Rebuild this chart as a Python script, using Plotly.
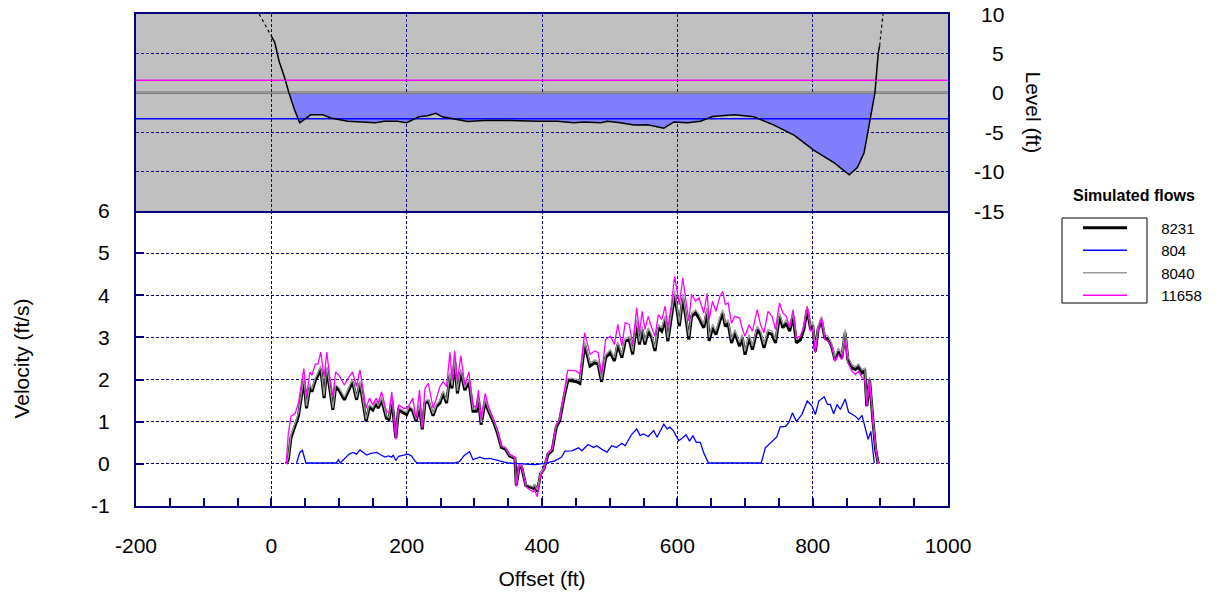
import plotly.graph_objects as go

# ---------------- data ----------------
OFFSET = [22, 25, 29, 35, 40, 44, 48, 52, 57, 60, 65, 69, 73, 78, 82, 86, 91, 95, 100, 108,
          113, 120, 126, 131, 140, 145, 150, 155, 158, 163, 170, 174, 178, 184, 188, 195, 200, 204, 209, 214,
          219, 223, 227, 232, 239, 244, 249, 254, 259, 264, 267, 271, 275, 280, 286, 292, 298, 303, 306, 310,
          316, 321, 328, 334, 340, 346, 352, 360, 362, 366, 370, 376, 382, 387, 389, 393, 398, 403, 409, 415,
          421, 426, 433, 438, 444, 451, 456, 463, 471, 478, 483, 488, 494, 501, 507, 512, 518, 523, 529, 534,
          540, 544, 548, 552, 557, 562, 567, 572, 577, 582, 586, 591, 596, 603, 608, 612, 617, 621, 627, 632,
          639, 644, 647, 652, 657, 663, 667, 671, 675, 680, 685, 692, 696, 700, 706, 711, 718, 723, 728, 734,
          740, 745, 751, 756, 761, 766, 771, 776, 782, 787, 792, 797, 800, 804, 808, 813, 818, 823, 828, 833,
          838, 843, 848, 852, 858, 863, 868, 873, 877, 880, 884, 889, 893, 897]

V_8231 = [0.00, 0.10, 0.62, 0.90, 1.13, 1.56, 1.98, 1.32, 1.83, 1.71, 1.98, 2.10, 2.26, 1.56, 2.26, 1.83, 1.28, 1.83, 1.75, 1.52,
          1.71, 1.95, 1.52, 1.91, 1.01, 1.36, 1.28, 1.44, 1.32, 1.52, 1.09, 1.05, 1.52, 0.62, 1.28, 1.21, 1.17, 1.32, 1.25, 1.01,
          1.36, 0.82, 1.44, 1.48, 1.14, 1.36, 1.44, 1.67, 1.44, 2.10, 1.79, 2.41, 1.67, 2.18, 1.75, 1.95, 1.25, 1.25, 1.56, 0.93,
          1.48, 1.25, 1.01, 0.74, 0.39, 0.35, 0.19, 0.13, -0.51, -0.08, -0.08, -0.51, -0.54, -0.58, -0.51, -0.66, -0.23, -0.12, 0.23, 0.31,
          0.87, 1.02, 1.61, 1.97, 1.97, 1.95, 1.91, 2.83, 2.32, 2.40, 2.36, 1.95, 2.52, 2.64, 2.44, 2.83, 2.52, 2.91, 2.95, 2.60,
          3.35, 2.83, 3.19, 2.83, 3.15, 3.00, 2.68, 3.23, 3.15, 3.43, 2.91, 3.43, 4.02, 3.27, 3.94, 3.54, 2.95, 3.50, 3.58, 3.46,
          3.23, 3.62, 2.92, 3.23, 3.07, 3.40, 3.58, 3.26, 3.34, 2.87, 3.11, 2.79, 2.99, 2.59, 2.99, 2.71, 3.19, 3.07, 2.75, 3.11,
          3.07, 2.87, 3.50, 3.23, 3.34, 3.15, 3.50, 2.87, 2.95, 3.19, 3.66, 3.19, 3.30, 2.67, 3.19, 3.42, 2.99, 2.95, 2.79, 2.47,
          2.67, 2.51, 3.11, 2.47, 2.28, 2.24, 2.30, 2.16, 2.20, 1.37, 2.00, 1.05, 0.34, 0.00]

V_8040 = [0.00, 0.15, 0.68, 0.95, 1.19, 1.62, 2.05, 1.37, 1.90, 1.77, 2.04, 2.16, 2.33, 1.62, 2.31, 1.89, 1.33, 1.88, 1.81, 1.58,
          1.77, 2.01, 1.57, 1.97, 1.06, 1.41, 1.33, 1.49, 1.37, 1.58, 1.14, 1.10, 1.57, 0.66, 1.33, 1.26, 1.22, 1.37, 1.30, 1.06,
          1.41, 0.86, 1.49, 1.53, 1.19, 1.41, 1.50, 1.73, 1.50, 2.17, 1.85, 2.48, 1.73, 2.25, 1.81, 2.01, 1.30, 1.30, 1.61, 0.98,
          1.53, 1.30, 1.05, 0.78, 0.42, 0.38, 0.21, 0.15, -0.49, -0.05, -0.06, -0.48, -0.51, -0.55, -0.48, -0.62, -0.20, -0.09, 0.26, 0.34,
          0.91, 1.06, 1.66, 2.03, 2.03, 2.01, 1.97, 2.90, 2.39, 2.47, 2.43, 2.01, 2.59, 2.71, 2.51, 2.90, 2.59, 2.98, 3.02, 2.67,
          3.43, 2.90, 3.27, 2.90, 3.23, 3.07, 2.75, 3.31, 3.22, 3.51, 2.98, 3.51, 4.11, 3.35, 4.03, 3.62, 3.03, 3.58, 3.66, 3.54,
          3.31, 3.70, 3.00, 3.31, 3.15, 3.48, 3.66, 3.34, 3.42, 2.95, 3.19, 2.87, 3.07, 2.67, 3.07, 2.79, 3.27, 3.15, 2.83, 3.19,
          3.15, 2.95, 3.58, 3.31, 3.42, 3.23, 3.58, 2.95, 3.03, 3.27, 3.74, 3.27, 3.38, 2.75, 3.27, 3.50, 3.07, 3.03, 2.87, 2.55,
          2.75, 2.59, 3.19, 2.55, 2.35, 2.31, 2.37, 2.23, 2.27, 1.42, 2.06, 1.10, 0.38, 0.00]

V_11658 = [0.00, 0.70, 1.13, 1.19, 1.44, 1.83, 2.26, 1.60, 2.18, 2.10, 2.36, 2.37, 2.65, 2.06, 2.65, 2.10, 1.60, 2.18, 2.10, 1.87,
           2.02, 2.18, 1.83, 2.23, 1.32, 1.56, 1.40, 1.56, 1.44, 1.71, 1.25, 1.21, 1.71, 0.58, 1.40, 1.32, 1.32, 1.40, 1.56, 1.05,
           1.75, 0.86, 1.79, 1.91, 1.32, 1.56, 1.83, 1.95, 1.83, 2.65, 1.98, 2.68, 1.95, 2.57, 1.87, 2.18, 1.40, 1.32, 1.75, 1.05,
           1.67, 1.36, 1.05, 0.82, 0.43, 0.39, 0.23, 0.16, -0.54, -0.02, -0.04, -0.54, -0.62, -0.66, -0.62, -0.78, -0.27, -0.14, 0.27, 0.35,
           0.94, 1.04, 1.73, 2.22, 2.22, 2.20, 2.13, 3.11, 2.60, 2.68, 2.64, 2.13, 2.95, 3.03, 2.83, 3.31, 2.80, 3.35, 3.31, 2.83,
           3.70, 3.11, 3.62, 3.19, 3.50, 3.23, 3.03, 3.54, 3.43, 3.74, 3.23, 3.74, 4.45, 3.78, 4.41, 3.94, 3.39, 4.02, 3.86, 3.94,
           3.58, 4.04, 3.42, 3.86, 3.62, 3.98, 4.09, 3.78, 3.82, 3.34, 3.50, 3.46, 3.20, 3.03, 3.30, 3.15, 3.66, 3.30, 3.11, 3.62,
           3.50, 3.19, 3.82, 3.58, 3.50, 3.23, 3.66, 2.99, 3.03, 3.26, 3.74, 3.15, 3.19, 2.63, 3.15, 3.46, 2.95, 2.91, 2.79, 2.43,
           2.59, 2.47, 2.95, 2.40, 2.20, 2.12, 2.20, 2.04, 2.00, 1.37, 2.00, 0.97, 0.40, 0.00]

OFFSET_804 = [37, 42, 46, 51, 60, 70, 80, 90, 96, 99, 102, 108, 115, 121, 126, 131, 136, 141, 147, 156,
              162, 168, 173, 178, 180, 184, 188, 195, 202, 207, 213, 217, 230, 250, 270, 278, 285, 293, 298, 308,
              315, 323, 335, 350, 370, 389, 404, 419, 429, 434, 444, 454, 459, 468, 476, 481, 488, 496, 503, 510,
              518, 523, 532, 540, 545, 550, 557, 565, 570, 580, 585, 589, 594, 602, 607, 613, 618, 623, 628, 634,
              639, 646, 680, 724, 730, 740, 747, 752, 760, 765, 770, 776, 784, 792, 799, 804, 809, 817, 822, 826,
              831, 836, 841, 848, 853, 863, 868, 873, 878, 882, 886, 891]
V_804 = [0.00, 0.27, 0.32, 0.02, 0.02, 0.02, 0.02, 0.02, 0.02, 0.10, 0.02, 0.12, 0.23, 0.27, 0.23, 0.33, 0.27, 0.21, 0.25, 0.27,
         0.21, 0.16, 0.19, 0.16, 0.21, 0.08, 0.18, 0.21, 0.23, 0.19, 0.05, 0.02, 0.02, 0.02, 0.02, 0.05, 0.20, 0.29, 0.10, 0.16,
         0.12, 0.13, 0.08, 0.02, 0.00, -0.02, 0.01, 0.07, 0.16, 0.30, 0.31, 0.38, 0.31, 0.46, 0.39, 0.43, 0.35, 0.28, 0.43, 0.39,
         0.49, 0.43, 0.69, 0.83, 0.67, 0.71, 0.65, 0.79, 0.63, 0.94, 0.83, 0.87, 0.79, 0.55, 0.61, 0.69, 0.54, 0.67, 0.51, 0.51,
         0.26, 0.02, 0.02, 0.02, 0.38, 0.54, 0.64, 0.88, 0.89, 0.99, 1.21, 1.01, 1.17, 1.49, 1.37, 1.17, 1.49, 1.59, 1.41, 1.41,
         1.19, 1.41, 1.29, 1.54, 1.23, 1.13, 1.05, 1.15, 0.85, 0.58, 0.77, 0.02]

# Channel bed (surveyed) and dotted extensions beyond the survey
BED_OFFSET = [0, 5, 11.5, 19, 26, 34, 42, 48, 58, 76, 88, 113, 137, 154, 167, 186, 200, 218, 231, 243,
              253, 268, 290, 314, 354, 393, 423, 447, 462, 487, 497, 516, 536, 556, 580, 595, 615, 634, 652, 684,
              713, 743, 773, 802, 832, 854, 866, 876, 883, 888, 892, 897, 899]
BED_LEVEL = [7.2, 6.4, 4.0, 2.1, 0.0, -2.1, -3.8, -3.4, -2.8, -2.8, -3.2, -3.6, -3.7, -3.8, -3.6, -3.6, -3.8, -3.05, -2.9, -2.6,
             -3.05, -3.3, -3.65, -3.5, -3.5, -3.6, -3.6, -3.8, -3.7, -3.8, -3.6, -3.8, -4.1, -4.05, -4.5, -3.7, -3.8, -3.6, -3.0, -2.8,
             -3.05, -4.1, -5.4, -7.3, -8.9, -10.4, -9.5, -7.6, -4.3, -1.7, 0.0, 5.1, 6.0]
BED_EXT_LEFT_OFFSET = [-18, 0]
BED_EXT_LEFT_LEVEL = [10.0, 7.2]
BED_EXT_RIGHT_OFFSET = [899, 904]
BED_EXT_RIGHT_LEVEL = [6.0, 10.0]

FLOWS = ["8231", "804", "8040", "11658"]
FLOW_COLORS = ["#000000", "#0000FF", "#999999", "#FF00FF"]
WATER_LEVEL = [0.0, -3.3, 0.0, 1.6]

X_RANGE = [-200, 1000]
X_TICKS = [-200, 0, 200, 400, 600, 800, 1000]
LEVEL_RANGE = [-15, 10]
LEVEL_TICKS = [10, 5, 0, -5, -10, -15]
VEL_RANGE = [-1, 6]
VEL_TICKS = [-1, 0, 1, 2, 3, 4, 5, 6]

# ---------------- styling ----------------
FONT = "Liberation Sans, Arial, sans-serif"
NAVY = "#000080"
GRID_DASH = "3px,2px"
PLOT_L, PLOT_R, PLOT_T, PLOT_B = 136, 948, 14, 506
PW, PH = PLOT_R - PLOT_L, PLOT_B - PLOT_T
SPLIT = (PLOT_B - 211) / PH  # bottom panel share of the plotting height


def px_x(px):
    return (px - PLOT_L) / PW


def px_y(py):
    return (PLOT_B - py) / PH


fig = go.Figure()

# ---- top panel: cross-section ----
wet = [(o, l) for o, l in zip(BED_OFFSET, BED_LEVEL) if l <= WATER_LEVEL[0]]
wet_x = [p[0] for p in wet]
wet_y = [p[1] for p in wet]
fig.add_trace(go.Scatter(x=[wet_x[0], wet_x[-1]], y=[WATER_LEVEL[0], WATER_LEVEL[0]],
                         mode="lines", line=dict(width=0), xaxis="x2", yaxis="y2",
                         showlegend=False, hoverinfo="skip"))
fig.add_trace(go.Scatter(x=wet_x, y=wet_y, mode="lines", line=dict(width=0),
                         fill="tonexty", fillcolor="#8080FF", xaxis="x2", yaxis="y2",
                         showlegend=False, hoverinfo="skip"))

# water surface lines for each flow
wl_order = [0, 2, 1, 3]
wl_width = [2, 1.5, 2, 1.5]
for i in wl_order:
    fig.add_trace(go.Scatter(x=X_RANGE, y=[WATER_LEVEL[i], WATER_LEVEL[i]], mode="lines",
                             line=dict(color=FLOW_COLORS[i], width=wl_width[i]),
                             xaxis="x2", yaxis="y2", showlegend=False, hoverinfo="skip"))

fig.add_trace(go.Scatter(x=BED_OFFSET, y=BED_LEVEL, mode="lines",
                         line=dict(color="#000000", width=1.5), xaxis="x2", yaxis="y2",
                         showlegend=False))
for xs, ys in [(BED_EXT_LEFT_OFFSET, BED_EXT_LEFT_LEVEL), (BED_EXT_RIGHT_OFFSET, BED_EXT_RIGHT_LEVEL)]:
    fig.add_trace(go.Scatter(x=xs, y=ys, mode="lines",
                             line=dict(color="#000000", width=1.2, dash="dot"),
                             xaxis="x2", yaxis="y2", showlegend=False))

# ---- bottom panel: velocities ----
PAD = "\u00a0" * 7
series = {
    "8231": (OFFSET, V_8231, 3.0, 1),
    "804": (OFFSET_804, V_804, 1.3, 2),
    "8040": (OFFSET, V_8040, 1.3, 3),
    "11658": (OFFSET, V_11658, 1.3, 4),
}
for name in ["8231", "8040", "804", "11658"]:
    xs, ys, w, rank = series[name]
    fig.add_trace(go.Scatter(x=xs, y=ys, mode="lines", name=PAD + name,
                             line=dict(color=FLOW_COLORS[FLOWS.index(name)], width=w),
                             legendrank=rank, xaxis="x", yaxis="y"))

axis_common = dict(showline=True, linecolor=NAVY, linewidth=2,
                   showgrid=True, gridcolor=NAVY, gridwidth=1.3, griddash=GRID_DASH,
                   zeroline=False, automargin=False,
                   tickfont=dict(family=FONT, size=21, color="#000000"))

fig.update_layout(
    width=1223, height=594,
    paper_bgcolor="#FFFFFF", plot_bgcolor="#FFFFFF",
    margin=dict(l=PLOT_L, r=1223 - PLOT_R, t=PLOT_T, b=594 - PLOT_B, autoexpand=False),
    font=dict(family=FONT, size=21, color="#000000"),
    xaxis=dict(range=X_RANGE, domain=[0, 1], anchor="y", mirror=False,
               tickvals=X_TICKS, ticktext=[str(v) for v in X_TICKS],
               ticks="inside", ticklen=8, tickwidth=1.5, tickcolor=NAVY,
               minor=dict(dtick=50, tick0=0, ticks="inside", ticklen=8, tickwidth=1.5,
                          tickcolor=NAVY, showgrid=False),
               ticklabelstandoff=20,
               title=dict(text="Offset (ft)", standoff=15, font=dict(family=FONT, size=21)),
               **axis_common),
    yaxis=dict(range=VEL_RANGE, domain=[0, SPLIT], anchor="x", mirror=True,
               tickvals=VEL_TICKS, ticktext=[str(v) for v in VEL_TICKS],
               ticks="inside", ticklen=8, tickwidth=1.5, tickcolor=NAVY,
               ticklabelstandoff=20,
               title=dict(text="Velocity (ft/s)", standoff=56, font=dict(family=FONT, size=21)),
               **axis_common),
    xaxis2=dict(range=X_RANGE, domain=[0, 1], anchor="y2", matches="x", tick0=0, dtick=200,
                mirror=True, showticklabels=False, ticks="", **axis_common),
    yaxis2=dict(range=LEVEL_RANGE, domain=[SPLIT, 1], anchor="x2", dtick=5, tick0=0,
                mirror=True, showticklabels=False, ticks="", side="right", **axis_common),
    showlegend=True,
    legend=dict(x=px_x(1078), xanchor="left", y=px_y(211.5), yanchor="top",
                traceorder="normal",
                bgcolor="rgba(0,0,0,0)", borderwidth=0, itemwidth=44,
                font=dict(family=FONT, size=15, color="#000000")),
)

# grey background of the cross-section panel
fig.add_shape(type="rect", xref="x2 domain", yref="y2 domain", x0=0, x1=1, y0=0, y1=1,
              fillcolor="#C0C0C0", line=dict(width=0), layer="below")

# legend frame around the line samples
fig.add_shape(type="rect", xref="paper", yref="paper",
              x0=px_x(1062), x1=px_x(1147), y0=px_y(303), y1=px_y(218),
              line=dict(color="#000000", width=1), fillcolor="rgba(0,0,0,0)")

# legend heading
fig.add_annotation(x=px_x(1071), xref="paper", y=px_y(195), yref="paper",
                   text="<b>Simulated flows</b>", showarrow=False,
                   xanchor="left", yanchor="middle",
                   font=dict(family=FONT, size=16, color="#000000"))

# right-hand level tick labels (right aligned) and title
for t in LEVEL_TICKS:
    fig.add_annotation(x=px_x(1006), xref="paper", y=t, yref="y2", text=str(t),
                       showarrow=False, xanchor="right", yanchor="middle",
                       font=dict(family=FONT, size=21, color="#000000"))
fig.add_annotation(x=px_x(1033), xref="paper", y=sum(LEVEL_RANGE) / 2, yref="y2",
                   text="Level (ft)", textangle=90, showarrow=False,
                   xanchor="center", yanchor="middle",
                   font=dict(family=FONT, size=21, color="#000000"))

fig.write_html("out.html", config={"displayModeBar": False},
               post_script="document.body.style.margin='0';document.body.style.overflow='hidden';")
